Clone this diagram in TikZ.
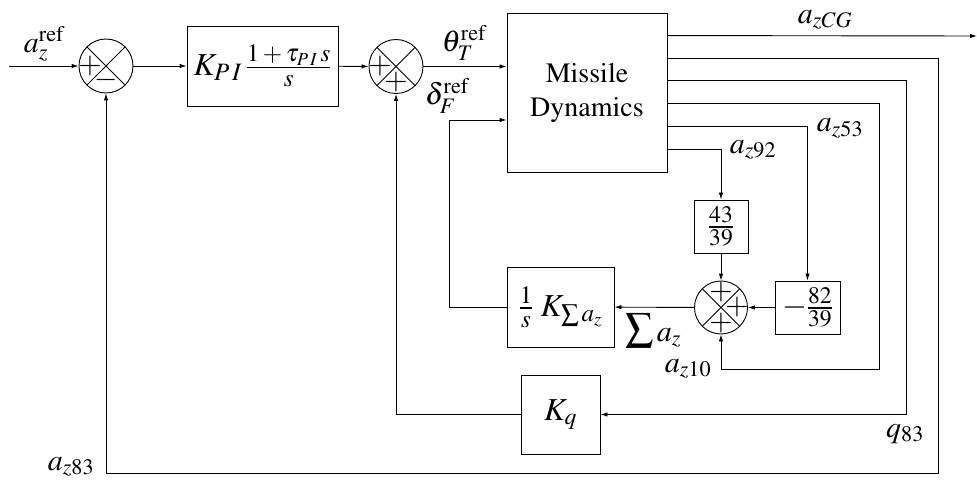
\documentclass[tikz,border=0pt]{standalone}
\usepackage[T1]{fontenc}
\usepackage{mathptmx}
\usetikzlibrary{arrows.meta,calc}
\newcommand{\fsz}[1]{\mbox{\fontsize{25}{25}\selectfont$#1$}}
\tikzset{
  arr/.style={-{Latex[length=7pt,width=4.5pt]}},
  wire/.style={line width=0.9pt},
  blk/.style={draw,line width=0.9pt,rectangle,inner sep=2pt,font=\fontsize{32}{36}\selectfont},
  sumc/.style={draw,line width=0.9pt,circle,minimum size=54pt,inner sep=0pt,
    path picture={\draw[line width=0.9pt] (path picture bounding box.north west)--(path picture bounding box.south east)
                  (path picture bounding box.north east)--(path picture bounding box.south west);}},
  sgn/.style={inner sep=0pt,font=\fontsize{30}{30}\selectfont},
  lbl/.style={inner sep=0pt,font=\fontsize{30}{34}\selectfont},
}
\begin{document}
\begin{tikzpicture}[x=1pt,y=-1pt]
\useasboundingbox (0,0) rectangle (977,481);
% nodes
\node[sumc] (s1) at (106,66) {};
\node[blk,minimum width=151pt,minimum height=80pt] (pi) at (262.5,66) {$K_{\fsz{P\,I}}\,\frac{\fsz{1+\tau_{P\,I}\,s}}{\fsz{s}}$};
\node[sumc] (s2) at (396,66.5) {};
\node[blk,minimum width=160pt,minimum height=159pt,align=center,font=\fontsize{28}{34}\selectfont] (md) at (587,92.5) {$\mathrm{Missile}$\\$\mathrm{Dynamics}$};
\node[blk,minimum width=54pt,minimum height=53pt] (g1) at (721,226.5) {$\frac{43}{39}$};
\node[sumc,minimum size=53pt] (s3) at (721,307.5) {};
\node[blk,minimum width=65pt,minimum height=53pt] (g2) at (807.5,307.5) {$-\frac{82}{39}$};
\node[blk,minimum width=107pt,minimum height=80pt] (ks) at (560.5,307) {$\frac{\fsz{1}}{\fsz{s}}\;K_{\fsz{\sum a_z}}$};
\node[blk,minimum width=79pt,minimum height=79pt] (kq) at (560.5,414.5) {$K_q$};
% signs
\node[sgn] (p1a) at ($(s1)+(-16,0)$) {$+$};
\node[sgn] (p1b) at ($(s1)+(0,14)$) {$-$};
\node[sgn] (p2a) at ($(s2)+(-16,0)$) {$+$};
\node[sgn] (p2b) at ($(s2)+(0,16)$) {$+$};
\node[sgn] (p3a) at ($(s3)+(0,-15)$) {$+$};
\node[sgn] (p3b) at ($(s3)+(16,0)$) {$+$};
\node[sgn] (p3c) at ($(s3)+(0,16)$) {$+$};
% coordinates
\coordinate (in) at (9,66);
\path (md.north east) ++(0,23) coordinate (o1);
\path (md.north east) ++(0,46) coordinate (o2);
\path (md.north east) ++(0,68) coordinate (o3);
\path (md.north east) ++(0,91) coordinate (o4);
\path (md.north east) ++(0,114) coordinate (o5);
\path (md.north east) ++(0,137) coordinate (o6);
\coordinate (outE) at (977,36);
\coordinate (c2) at (938,473);
\coordinate (c3) at (906,414.5);
\coordinate (c4) at (879,369.5);
\coordinate (dF) at (449,120);
% wires
\draw[wire,arr] (in) -- (s1);
\draw[wire,arr] (s1) -- (pi);
\draw[wire,arr] (pi) -- (s2);
\draw[wire,arr] (s2) -- (s2 -| md.west);
\draw[wire,arr] (o1) -- (outE);
\draw[wire,arr] (o2) -| (c2) -| (s1.south);
\draw[wire,arr] (o3) -| (c3) -- (kq.east);
\draw[wire,arr] (o4) -| (c4) -| (s3.south);
\draw[wire,arr] (o5) -| (g2.north);
\draw[wire,arr] (o6) -| (g1.north);
\draw[wire,arr] (g1) -- (s3);
\draw[wire,arr] (g2) -- (s3);
\draw[wire,arr] (s3) -- (ks);
\draw[wire,arr] (ks.west) -| (dF) -- (dF -| md.west);
\draw[wire,arr] (kq.west) -| (s2.south);
% labels
\node[lbl] (l1) at (44,44) {$a_z^{\mathrm{ref}}$};
\node[lbl] (l2) at (464,43) {$\theta_T^{\mathrm{ref}}$};
\node[lbl] (l3) at (447,96) {$\delta_F^{\mathrm{ref}}$};
\node[lbl] (l4) at (825,20) {$a_{zCG}$};
\node[lbl] (l5) at (840,128) {$a_{z53}$};
\node[lbl] (l6) at (753,150) {$a_{z92}$};
\node[lbl] (l7) at (653,331) {{\fontsize{40}{40}\selectfont$\sum$}$\,a_z$};
\node[lbl] (l8) at (688,369) {$a_{z10}$};
\node[lbl] (l9) at (905,434) {$q_{83}$};
\node[lbl] (l10) at (71,467) {$a_{z83}$};
\end{tikzpicture}
\end{document}
